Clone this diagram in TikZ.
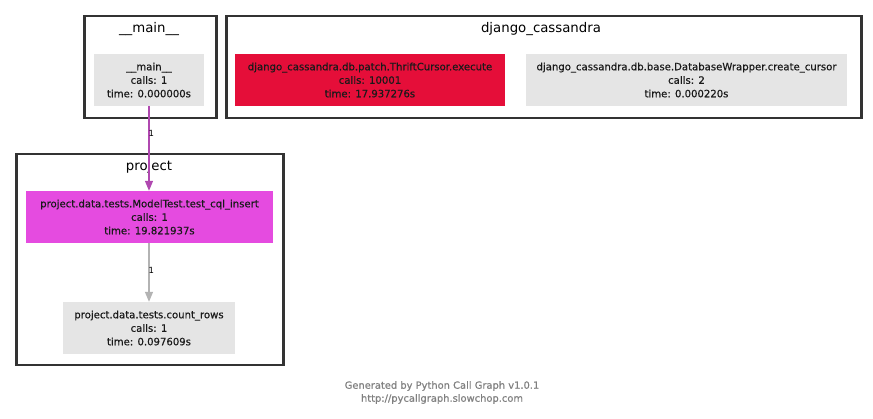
\documentclass[tikz,border=0pt]{standalone}
\usepackage{fontspec}
\setmainfont{DejaVu Sans}
\newfontfamily\nodefont[FakeBold=0.5]{DejaVu Sans}
\usetikzlibrary{arrows.meta}
\definecolor{clus}{HTML}{333333}
\definecolor{lgray}{HTML}{E5E5E5}
\definecolor{crimson}{HTML}{E50E39}
\definecolor{magen}{HTML}{E54BE0}
\definecolor{purp}{HTML}{B048B0}
\definecolor{egray}{HTML}{B3B3B3}
\definecolor{foot}{HTML}{808080}
\definecolor{ntext}{HTML}{1A1A1A}
\tikzset{
  cluster/.style={draw=clus,line width=2.5pt,fill=white,inner sep=0pt,anchor=north west},
  ctitle/.style={font=\fontsize{13.3}{15}\selectfont,text=black,inner sep=0pt},
  fn/.style={align=center,inner sep=0pt,minimum height=52pt,text=ntext,font=\nodefont\fontsize{10.1}{13.5}\selectfont},
  elabel/.style={font=\fontsize{8.5}{9}\selectfont,inner sep=0pt,anchor=west},
  edge/.style={line width=1.3pt,-{Triangle[length=10pt,width=8pt]}},
  footer/.style={text=foot,align=center,font=\nodefont\fontsize{9.9}{13}\selectfont,inner sep=0pt}
}
\begin{document}
\begin{tikzpicture}[x=1pt,y=-1pt]
\useasboundingbox[fill=white] (0,0) rectangle (873,419);
% clusters
\node[cluster,minimum width=132pt,minimum height=102pt] (cmain) at (83,15) {};
\node[cluster,minimum width=635pt,minimum height=102pt] (cdj) at (225,15) {};
\node[cluster,minimum width=267pt,minimum height=211pt] (cproj) at (15,153) {};
\node[ctitle] (tmain) at (149,29) {\_\_main\_\_};
\node[ctitle] (tdj) at (541,29) {django\_cassandra};
\node[ctitle] (tproj) at (149,167) {project};
% function nodes
\node[fn,fill=lgray,minimum width=110pt] (main) at (149,80) {\_\_main\_\_\\calls: 1\\time: 0.000000s};
\node[fn,fill=crimson,minimum width=270pt] (thrift) at (370,80) {django\_cassandra.db.patch.ThriftCursor.execute\\calls: 10001\\time: 17.937276s};
\node[fn,fill=lgray,minimum width=321pt] (create) at (686.5,80) {django\_cassandra.db.base.DatabaseWrapper.create\_cursor\\calls: 2\\time: 0.000220s};
\node[fn,fill=magen,minimum width=247pt] (cql) at (149.5,217) {project.data.tests.ModelTest.test\_cql\_insert\\calls: 1\\time: 19.821937s};
\node[fn,fill=lgray,minimum width=172pt] (count) at (149,328) {project.data.tests.count\_rows\\calls: 1\\time: 0.097609s};
% edges
\draw[edge,purp] (main.south -| 149,0) -- (cql.north -| 149,0) node[pos=0.32,elabel,text=black,xshift=-1pt] (l1) {1};
\draw[edge,egray] (cql.south -| 149,0) -- (count.north -| 149,0) node[pos=0.47,elabel,text=black,xshift=-1pt] (l2) {1};
% footer
\node[footer] (ft) at (442,392.5) {Generated by Python Call Graph v1.0.1\\http://pycallgraph.slowchop.com};
\end{tikzpicture}
\end{document}
